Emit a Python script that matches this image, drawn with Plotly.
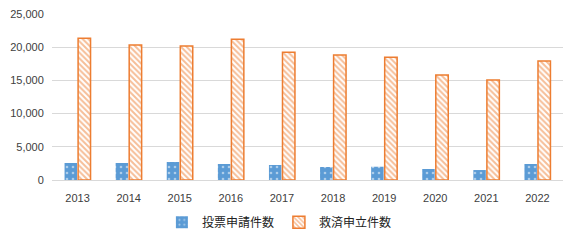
import plotly.graph_objects as go

years = ["2013", "2014", "2015", "2016", "2017", "2018", "2019", "2020", "2021", "2022"]
vote_requests = [2560, 2560, 2710, 2410, 2260, 1960, 2000, 1660, 1500, 2410]
relief_requests = [21340, 20330, 20180, 21190, 19230, 18820, 18480, 15810, 15060, 17920]
y_ticks = [0, 5000, 10000, 15000, 20000, 25000]
y_tick_labels = ["0", "5,000", "10,000", "15,000", "20,000", "25,000"]

fig = go.Figure()
fig.add_trace(go.Bar(
    x=years, y=vote_requests, name="投票申請件数",
    marker=dict(color="#5B9BD5", line=dict(width=0),
                pattern=dict(shape=".", fgcolor="white", bgcolor="#5B9BD5", size=6, solidity=0.15)),
))
fig.add_trace(go.Bar(
    x=years, y=relief_requests, name="救済申立件数",
    marker=dict(color="#ED7D31", line=dict(color="#ED7D31", width=1.5),
                pattern=dict(shape="\\", fgcolor="#ED7D31", bgcolor="white", size=4, solidity=0.5)),
))

fig.update_layout(
    width=578, height=243,
    margin=dict(l=52, r=15, t=14, b=63, autoexpand=False),
    paper_bgcolor="white", plot_bgcolor="white",
    barmode="group", bargap=0.47, bargroupgap=0.08,
    font=dict(family="Noto Sans CJK JP, Liberation Sans, sans-serif", size=11, color="#404040"),
    showlegend=True,
    legend=dict(orientation="h", x=0.445, xanchor="center", y=-0.255, yanchor="middle",
                font=dict(size=12, color="#222"), itemwidth=30, tracegroupgap=0),
)
fig.update_xaxes(showgrid=False, showline=True, linecolor="#D9D9D9",
                 ticks="outside", ticklen=8, tickcolor="rgba(0,0,0,0)",
                 tickfont=dict(family="Liberation Sans, sans-serif", size=11, color="#404040"))
fig.update_yaxes(range=[0, 25000], tickvals=y_ticks, ticktext=y_tick_labels,
                 showgrid=True, gridcolor="#D9D9D9", gridwidth=1, zeroline=False,
                 showline=False, ticks="outside", ticklen=5, tickcolor="rgba(0,0,0,0)",
                 tickfont=dict(family="Liberation Sans, sans-serif", size=11, color="#404040"))

fig.write_html("out.html")
